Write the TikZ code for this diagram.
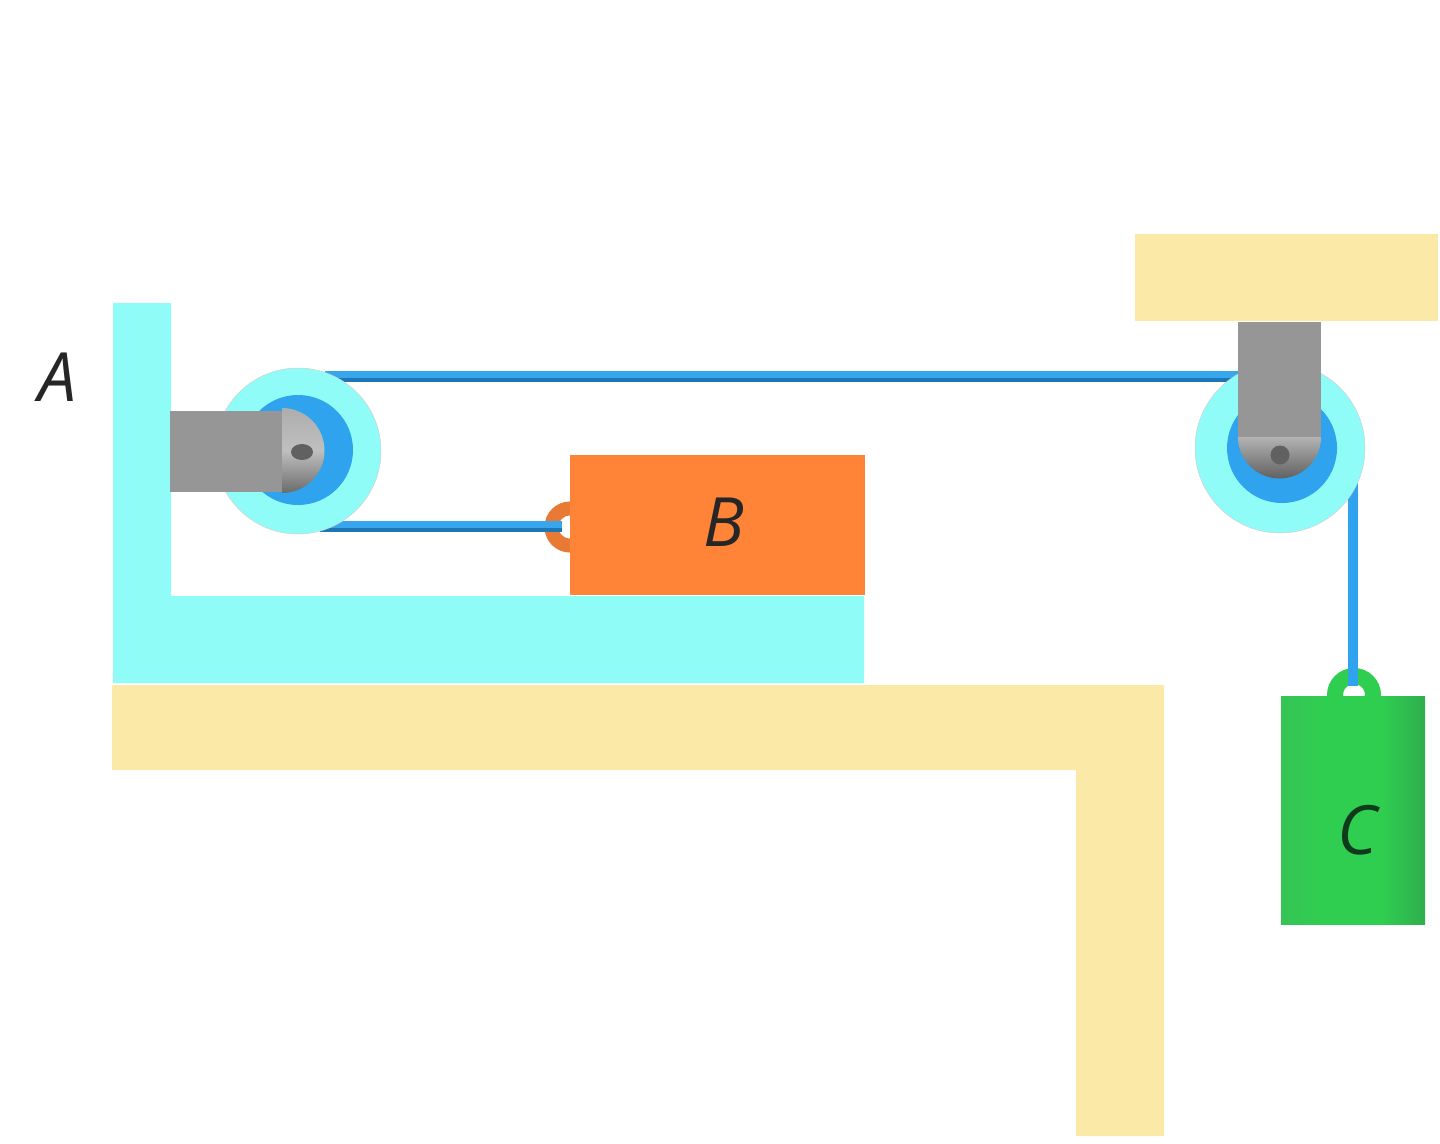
\documentclass[tikz,border=0pt]{standalone}
\usepackage{fontspec}
\usetikzlibrary{shapes.geometric}
\setmainfont{Open Sans}
\definecolor{cyanp}{HTML}{8FFCF7}
\definecolor{yell}{HTML}{FBE9A8}
\definecolor{bluep}{HTML}{2FA3EE}
\definecolor{grayb}{HTML}{979696}
\definecolor{orangeb}{HTML}{FF8438}
\definecolor{orangedk}{HTML}{E87A35}
\definecolor{greenb}{HTML}{2FCE50}
\definecolor{greenl}{HTML}{36C455}
\definecolor{greendk}{HTML}{2FAE4E}
\definecolor{ropedk}{HTML}{1F76B4}
\definecolor{ropelt}{HTML}{38A6EC}
\definecolor{inkc}{HTML}{0F3A1C}
\pgfdeclarehorizontalshading{cbody}{100bp}{color(0bp)=(greenl); color(25bp)=(greenl); color(40bp)=(greenb); color(60bp)=(greenb); color(75bp)=(greendk); color(100bp)=(greendk)}
\tikzset{
  slab/.style={fill=yell,draw=none},
  base/.style={fill=cyanp,draw=none},
  arm/.style={fill=grayb,draw=none},
  ropeouter/.style={draw=ropedk,line width=11pt},
  ropeinner/.style={draw=ropelt,line width=7pt},
  ropeplain/.style={draw=bluep,line width=10.5pt},
  letter/.style={font=\fontsize{68}{68}\selectfont\itshape,inner sep=0pt,anchor=center},
  axle/.style={fill=black!62,draw=none}
}
\begin{document}
\begin{tikzpicture}[x=1pt,y=-1pt]
\useasboundingbox (0,0) rectangle (1440,1143);
\fill[white] (0,0) rectangle (1440,1143);
% fixed supports
\fill[slab] (112,685) -- (1164,685) -- (1164,1136) -- (1076,1136) -- (1076,770) -- (112,770) -- cycle;
\fill[slab] (1135,234) rectangle (1438,321);
% cart A
\fill[base] (113,303) -- (171,303) -- (171,596) -- (864,596) -- (864,683) -- (113,683) -- cycle;
% named rope ends
\coordinate (lt) at (325,376);
\coordinate (rt) at (1245,376);
\coordinate (lb) at (320,526);
\coordinate (rb) at (562,526);
\coordinate (vt) at (1353,480);
\coordinate (vb) at (1353,686);
% rings behind the blocks
\draw[draw=orangedk,line width=14pt] (570,527) circle (18.5);
\draw[draw=greenb,line width=16pt] (1354,695) circle (19);
% blocks
\node[fill=orangeb,draw=none,minimum width=295pt,minimum height=140pt,inner sep=0pt] (B) at (717,525) {};
\node[shading=cbody,draw=none,inner sep=0pt,minimum width=144pt,minimum height=228pt] (C) at (1353,810) {};
% ropes
\draw[ropeouter] (lt) -- (rt);
\draw[ropeinner] ([yshift=1.5pt]lt) -- ([yshift=1.5pt]rt);
\draw[ropeouter] (lb) -- (rb);
\draw[ropeinner] ([yshift=1.5pt]lb) -- ([yshift=1.5pt]rb);
\draw[ropeplain] (vt) -- (vb);
% pulleys
\node[circle,fill=cyanp,draw=black!18,line width=.5pt,minimum size=166pt,inner sep=0pt] (P1) at (298,451) {};
\node[circle,fill=bluep,draw=none,minimum size=110pt,inner sep=0pt] (P1i) at (298,450) {};
\node[circle,fill=cyanp,draw=black!18,line width=.5pt,minimum size=170pt,inner sep=0pt] (P2) at (1280,448) {};
\node[circle,fill=bluep,draw=none,minimum size=110pt,inner sep=0pt] (P2i) at (1282,448) {};
% left hub and arm
\shade[top color=black!32,bottom color=black!58,middle color=black!25] (282,408) arc[start angle=-90,end angle=90,radius=42.5] -- cycle;
\fill[arm] (170,411) rectangle (282,492);
\node[ellipse,axle,minimum width=22pt,minimum height=16pt,inner sep=0pt] (ax1) at (302,452) {};
% right hub and arm
\shade[top color=black!30,bottom color=black!62] (1238,437) arc[start angle=180,end angle=0,radius=41.5] -- cycle;
\fill[arm] (1238,322) rectangle (1321,437);
\node[circle,axle,minimum size=19pt,inner sep=0pt] (ax2) at (1280,455) {};
% labels
\node[letter,text=black!85] (la) at (58,377) {A};
\node[letter,text=black!85] (lbb) at (724,522) {B};
\node[letter,text=inkc] (lc) at (1357,830) {C};
\end{tikzpicture}
\end{document}
